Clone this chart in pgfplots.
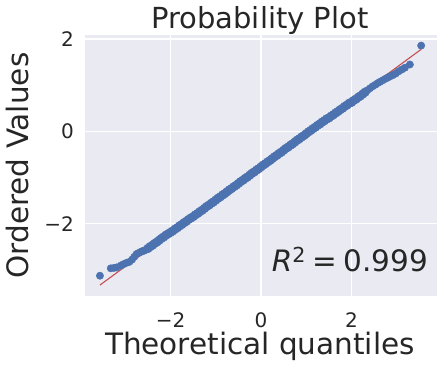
\documentclass[border=0pt]{standalone}
\usepackage{pgfplots}
\pgfplotsset{compat=1.18}
\usepackage{fontspec}
\setmainfont{DejaVu Sans}
\definecolor{sbbg}{HTML}{EAEAF2}
\definecolor{sbblue}{HTML}{4C72B0}
\definecolor{sbred}{HTML}{C44E52}
\definecolor{sbtext}{HTML}{262626}
\begin{document}
\begin{tikzpicture}
\begin{axis}[
    scale only axis,
    width=352pt,height=261pt,
    xmin=-3.89,xmax=3.89,
    ymin=-3.57,ymax=2.09,
    xtick={-2,0,2},xticklabels={−2,0,2},
    ytick={-2,0,2},yticklabels={−2,0,2},
    major tick length=0pt,
    axis background/.style={fill=sbbg},
    axis line style={draw=none},
    grid=major,
    major grid style={white,line width=1.3pt},
    tick label style={font=\fontsize{20}{24}\selectfont,text=sbtext,inner sep=0pt},
    xticklabel style={anchor=base,yshift=-31pt},
    yticklabel style={anchor=east,xshift=-11pt},
    label style={font=\fontsize{29.5}{34}\selectfont,text=sbtext,inner sep=0pt},
    xlabel={Theoretical quantiles},
    ylabel={Ordered Values},
    xlabel style={at={(axis description cs:0.497,-0.226)},anchor=base},
    ylabel style={at={(axis description cs:-0.161,0.5)},anchor=base},
    title={Probability Plot},
    every axis title shift=0pt,
    title style={font=\fontsize{29}{34}\selectfont,text=sbtext,inner sep=0pt,
      at={(axis description cs:0.497,1.0268)},anchor=base},
]
% tails
\addplot[only marks,mark=*,mark size=3.7pt,color=sbblue,mark options={draw=sbblue,fill=sbblue}] coordinates {
(-3.56,-3.13) (-3.32,-2.97) (-3.25,-2.96) (-3.19,-2.95) (-3.10,-2.91)
(-3.04,-2.88) (-2.97,-2.85) (-2.91,-2.83) (-2.85,-2.78) (-2.80,-2.72)
(-2.75,-2.66) (-2.71,-2.64) (-2.67,-2.62) (-2.63,-2.60) (-2.59,-2.59)
(-2.55,-2.57)
(2.35,0.89) (2.41,0.935) (2.47,0.978) (2.53,1.012) (2.58,1.048)
(2.63,1.074) (2.69,1.107) (2.75,1.14) (2.80,1.166) (2.85,1.192)
(2.92,1.222) (2.98,1.256) (3.04,1.30) (3.11,1.34) (3.18,1.38)
(3.29,1.45) (3.54,1.86)
};
% dense middle
\addplot[only marks,mark=*,mark size=4.4pt,color=sbblue,mark options={draw=sbblue,fill=sbblue}] coordinates {
(-2.50,-2.54) (-2.45,-2.50) (-2.40,-2.47) (-2.35,-2.43) (-2.30,-2.40)
(-2.25,-2.36) (-2.20,-2.32) (-2.15,-2.29) (-2.10,-2.25) (-2.05,-2.22)
(-2.00,-2.19) (-1.95,-2.16) (-1.90,-2.12) (-1.85,-2.09) (-1.80,-2.05)
(-1.75,-2.02) (-1.70,-1.98) (-1.65,-1.95) (-1.60,-1.91) (-1.55,-1.88)
(-1.50,-1.85) (-1.45,-1.81) (-1.40,-1.78) (-1.35,-1.74) (-1.30,-1.71)
(-1.25,-1.67) (-1.20,-1.63) (-1.15,-1.60) (-1.10,-1.56) (-1.05,-1.53)
(-1.00,-1.49) (-0.95,-1.45) (-0.90,-1.42) (-0.85,-1.38) (-0.80,-1.35)
(-0.75,-1.31) (-0.70,-1.27) (-0.65,-1.24) (-0.60,-1.20) (-0.55,-1.17)
(-0.50,-1.13) (-0.45,-1.09) (-0.40,-1.06) (-0.35,-1.02) (-0.30,-0.99)
(-0.25,-0.95) (-0.20,-0.91) (-0.15,-0.88) (-0.10,-0.84) (-0.05,-0.81)
(0.00,-0.77) (0.05,-0.73) (0.10,-0.70) (0.15,-0.66) (0.20,-0.63)
(0.25,-0.59) (0.30,-0.55) (0.35,-0.52) (0.40,-0.48) (0.45,-0.45)
(0.50,-0.41) (0.55,-0.37) (0.60,-0.34) (0.65,-0.30) (0.70,-0.27)
(0.75,-0.23) (0.80,-0.19) (0.85,-0.16) (0.90,-0.12) (0.95,-0.09)
(1.00,-0.05) (1.05,-0.01) (1.10,0.02) (1.15,0.06) (1.20,0.09)
(1.25,0.13) (1.30,0.16) (1.35,0.20) (1.40,0.23) (1.45,0.27)
(1.50,0.29) (1.55,0.33) (1.60,0.36) (1.65,0.40) (1.70,0.43)
(1.75,0.47) (1.80,0.50) (1.85,0.54) (1.90,0.57) (1.95,0.61)
(2.00,0.63) (2.05,0.67) (2.10,0.70) (2.15,0.74) (2.20,0.77)
(2.25,0.81) (2.30,0.85)
};
\addplot[color=sbred,line width=1.1pt] coordinates {(-3.56,-3.333) (3.54,1.779)};
\node[anchor=base west,text=sbtext,font=\fontsize{29.5}{34}\selectfont,inner sep=0pt]
  at (axis cs:0.236,-3.04) {\itshape R\upshape\textsuperscript{2}\hspace{0.22em}=\hspace{0.22em}0.999};
\end{axis}
\pgfresetboundingbox
\path (current axis.south west) ++(-85pt,-74pt) rectangle ++(448pt,370pt);
\end{tikzpicture}
\end{document}
